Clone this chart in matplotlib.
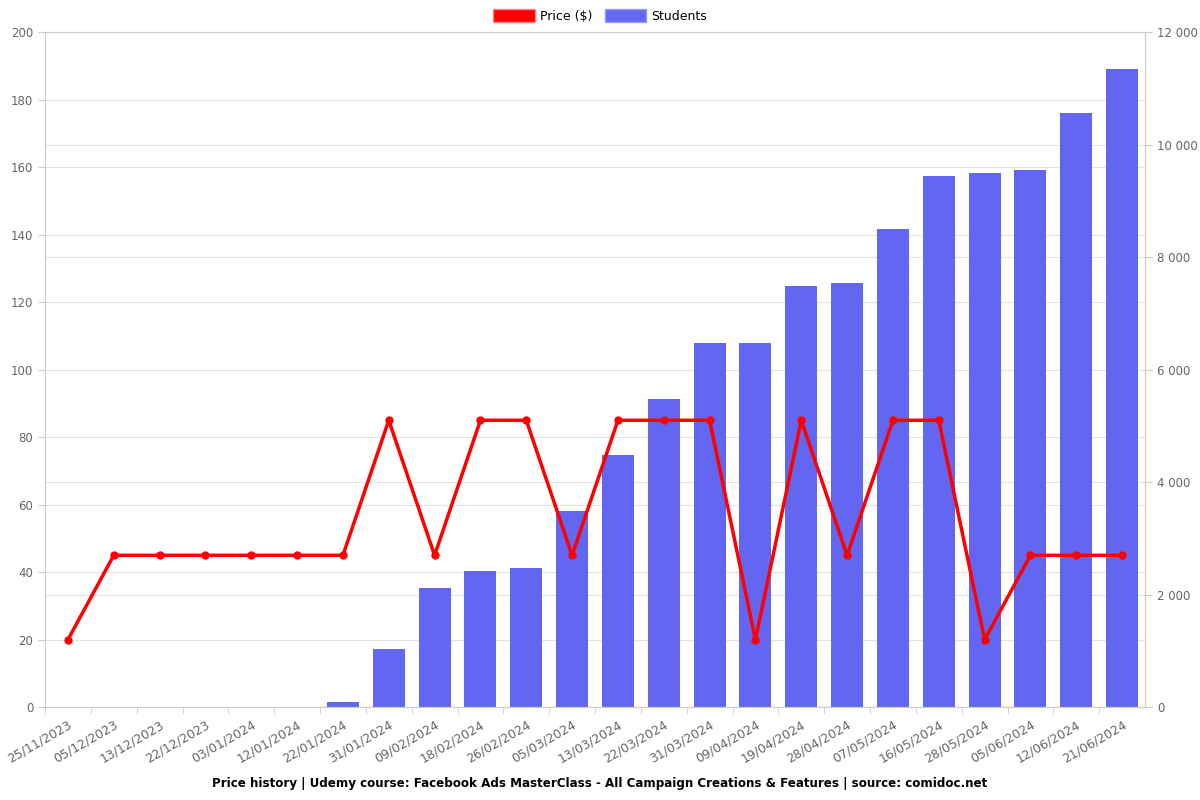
import numpy as np
import matplotlib.pyplot as plt
from matplotlib.patches import Patch
from matplotlib.ticker import FuncFormatter, MultipleLocator

dates = ["25/11/2023", "05/12/2023", "13/12/2023", "22/12/2023", "03/01/2024", "12/01/2024",
         "22/01/2024", "31/01/2024", "09/02/2024", "18/02/2024", "26/02/2024", "05/03/2024",
         "13/03/2024", "22/03/2024", "31/03/2024", "09/04/2024", "19/04/2024", "28/04/2024",
         "07/05/2024", "16/05/2024", "28/05/2024", "05/06/2024", "12/06/2024", "21/06/2024"]
price = [19.99, 44.99, 44.99, 44.99, 44.99, 44.99, 44.99, 84.99, 44.99, 84.99, 84.99, 44.99,
         84.99, 84.99, 84.99, 19.99, 84.99, 44.99, 84.99, 84.99, 19.99, 44.99, 44.99, 44.99]
students = [0, 0, 0, 5, 8, 10, 90, 1030, 2115, 2420, 2470, 3485,
            4480, 5475, 6470, 6470, 7485, 7540, 8500, 9440, 9495, 9550, 10560, 11345]

grey = "#666666"
gridc = "#e3e3e3"
x = np.arange(len(dates))

fig = plt.figure(figsize=(12, 8), dpi=100)
ax = fig.add_axes([0.0375, 0.116, 0.9167, 0.844])
ax2 = ax.twinx()

# bars behind the price line
ax.set_zorder(2)
ax.patch.set_visible(False)
ax2.set_zorder(1)

ax2.bar(x, students, width=0.7, color="#6366F1", zorder=2)
ax.plot(x, price, color="#FF0000", lw=2.5, marker="o", ms=5, zorder=3)

ax.set_xlim(-0.5, len(dates) - 0.5)
ax.set_ylim(0, 200)
ax2.set_ylim(0, 12000)

ax.yaxis.set_major_locator(MultipleLocator(20))
ax2.yaxis.set_major_locator(MultipleLocator(2000))
ax2.yaxis.set_major_formatter(FuncFormatter(lambda v, p: f"{int(v):,}".replace(",", " ")))
# left-axis grid (every 20 $) drawn on the bar axes so it sits under the bars
ax2.yaxis.set_minor_locator(MultipleLocator(1200))
ax2.tick_params(axis="y", which="minor", length=0)

ax.set_xticks(x)
ax.set_xticklabels(dates, rotation=30, ha="right", rotation_mode="anchor")
ax.set_xticks(x - 0.5, minor=True)
ax.tick_params(axis="x", which="major", length=0, pad=8, colors=grey, labelsize=9)
ax.tick_params(axis="x", which="minor", length=5, color="#cccccc")

for a in (ax, ax2):
    a.tick_params(axis="y", which="major", labelcolor=grey, labelsize=8.5, length=5, color="#cccccc")
    for s in a.spines.values():
        s.set_color("#cccccc")

ax2.grid(True, axis="x", which="minor", color=gridc, lw=0.8)
ax2.grid(True, axis="y", which="both", color=gridc, lw=0.8)
ax2.set_xticks(x - 0.5, minor=True)
ax2.set_axisbelow(True)

handles = [Patch(facecolor="#FF0000", edgecolor="#ff8080"),
           Patch(facecolor="#6366F1", edgecolor="#9a9cf5")]
fig.legend(handles, ["Price ($)", "Students"], loc="center", ncol=2,
           bbox_to_anchor=(0.5, 1 - 16 / 800), frameon=False, fontsize=9,
           handlelength=3.3, handleheight=1.2, columnspacing=1.0, handletextpad=0.4)

fig.text(0.5, 0.012, "Price history | Udemy course: Facebook Ads MasterClass - All Campaign Creations & Features | source: comidoc.net",
         ha="center", va="bottom", fontsize=8.6, fontweight="bold")

fig.savefig("out.png", dpi=100)
